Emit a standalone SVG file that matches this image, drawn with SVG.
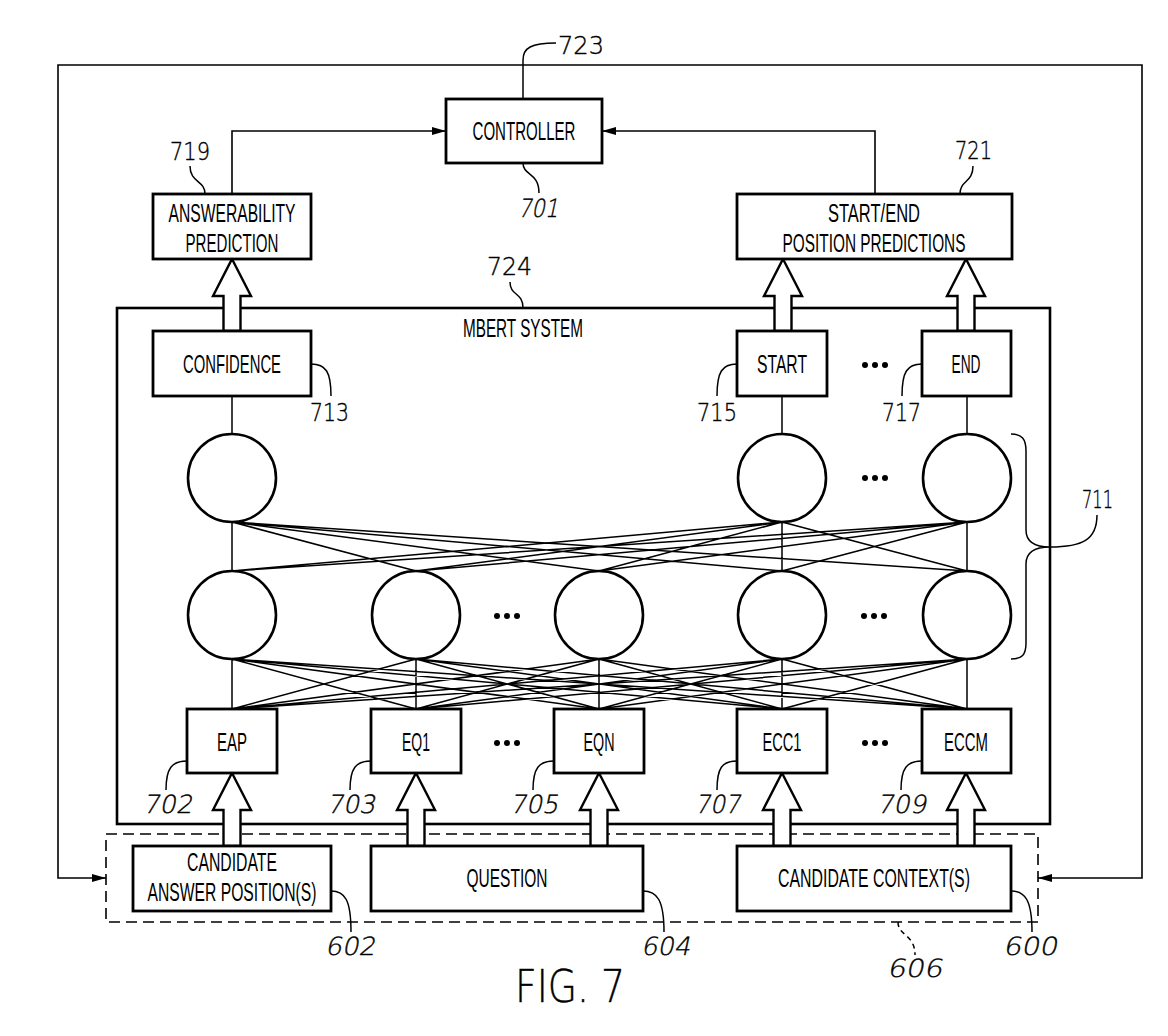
<svg xmlns="http://www.w3.org/2000/svg" width="1168" height="1036" viewBox="0 0 1168 1036">
<style>
.bg{fill:#fff}
.box{fill:#fff;stroke:#000;stroke-width:2.8}
.frame{fill:none;stroke:#000;stroke-width:2.6}
.dash{fill:none;stroke:#000;stroke-width:1.6;stroke-dasharray:11,6}
.ln{fill:none;stroke:#000;stroke-width:1.6}
.net{fill:none;stroke:#000;stroke-width:1.5}
.lead{fill:none;stroke:#000;stroke-width:1.5}
.neuron{fill:#fff;stroke:#000;stroke-width:2.6}
.hollow{fill:#fff;stroke:#000;stroke-width:2.4;stroke-linejoin:miter}
.t{font-family:"Liberation Sans",Arial,sans-serif;font-size:25px;fill:#000;text-anchor:middle}
.n{font-family:"DejaVu Sans","Liberation Sans",sans-serif;font-weight:200;font-size:25px;fill:#000;stroke:#000;stroke-width:0.4}
.dot{fill:#000}
</style>
<defs>
<marker id="ah" viewBox="0 0 14 8" refX="14" refY="4" markerWidth="14" markerHeight="8" markerUnits="userSpaceOnUse" orient="auto">
<path d="M0,0 L14,4 L0,8 z" fill="#000"/>
</marker>
</defs>
<rect class="bg" x="0" y="0" width="1168" height="1036"/>

<!-- MBERT system frame -->
<g id="mbert-system">
<rect class="frame" x="117" y="308" width="933" height="516"/>
<text class="t" x="523" y="337" textLength="120" lengthAdjust="spacingAndGlyphs">MBERT SYSTEM</text>
</g>

<!-- dashed input group 606 -->
<g id="input-group">
<rect class="dash" x="106" y="834" width="932" height="88"/>
</g>

<!-- connectors -->
<g id="connectors">
<path class="ln" d="M600,65 H58 V878 H106" marker-end="url(#ah)"/>
<path class="ln" d="M600,65 H1142 V878 H1038" marker-end="url(#ah)"/>
<path class="ln" d="M232,194 V131 H446" marker-end="url(#ah)"/>
<path class="ln" d="M875,194 V131 H602" marker-end="url(#ah)"/>
<path class="net" d="M232,396 V434 M782,396 V434 M967,396 V434"/>
<path class="net" d="M232,522 L232,571 M232,522 L416,571 M232,522 L599,571 M232,522 L782,571 M232,522 L967,571
M782,522 L232,571 M782,522 L416,571 M782,522 L599,571 M782,522 L782,571 M782,522 L967,571
M967,522 L232,571 M967,522 L416,571 M967,522 L599,571 M967,522 L782,571 M967,522 L967,571"/>
<path class="net" d="M232,659 L232,709 M232,659 L416,709 M232,659 L599,709 M232,659 L782,709 M232,659 L967,709
M416,659 L232,709 M416,659 L416,709 M416,659 L599,709 M416,659 L782,709 M416,659 L967,709
M599,659 L232,709 M599,659 L416,709 M599,659 L599,709 M599,659 L782,709 M599,659 L967,709
M782,659 L232,709 M782,659 L416,709 M782,659 L599,709 M782,659 L782,709 M782,659 L967,709
M967,659 L232,709 M967,659 L416,709 M967,659 L599,709 M967,659 L782,709 M967,659 L967,709"/>
<polygon class="hollow" points="232,259 251,296 240.5,296 240.5,331 223.5,331 223.5,296 213,296"/>
<polygon class="hollow" points="783,259 802,296 791.5,296 791.5,331 774.5,331 774.5,296 764,296"/>
<polygon class="hollow" points="966,259 985,296 974.5,296 974.5,331 957.5,331 957.5,296 947,296"/>
<polygon class="hollow" points="232,773 251,810 240.5,810 240.5,846 223.5,846 223.5,810 213,810"/>
<polygon class="hollow" points="416,773 435,810 424.5,810 424.5,846 407.5,846 407.5,810 397,810"/>
<polygon class="hollow" points="599,773 618,810 607.5,810 607.5,846 590.5,846 590.5,810 580,810"/>
<polygon class="hollow" points="782,773 801,810 790.5,810 790.5,846 773.5,846 773.5,810 763,810"/>
<polygon class="hollow" points="966,773 985,810 974.5,810 974.5,846 957.5,846 957.5,810 947,810"/>
</g>

<g id="controller">
<rect class="box" x="446" y="99" width="156" height="64"/>
<text class="t" x="524" y="140" textLength="103" lengthAdjust="spacingAndGlyphs">CONTROLLER</text>
</g>
<g id="answerability-prediction">
<rect class="box" x="153" y="194" width="158" height="65"/>
<text class="t" x="232" y="222" textLength="127" lengthAdjust="spacingAndGlyphs">ANSWERABILITY</text>
<text class="t" x="232" y="252" textLength="93" lengthAdjust="spacingAndGlyphs">PREDICTION</text>
</g>
<g id="start-end-predictions">
<rect class="box" x="737" y="194" width="275" height="65"/>
<text class="t" x="874" y="222" textLength="92" lengthAdjust="spacingAndGlyphs">START/END</text>
<text class="t" x="874" y="252" textLength="183" lengthAdjust="spacingAndGlyphs">POSITION PREDICTIONS</text>
</g>

<g id="confidence">
<rect class="box" x="153" y="331" width="158" height="65"/>
<text class="t" x="232" y="373" textLength="98" lengthAdjust="spacingAndGlyphs">CONFIDENCE</text>
</g>
<g id="start">
<rect class="box" x="737" y="331" width="90" height="65"/>
<text class="t" x="782" y="373" textLength="50" lengthAdjust="spacingAndGlyphs">START</text>
</g>
<g id="end">
<rect class="box" x="922" y="331" width="89" height="65"/>
<text class="t" x="966" y="373" textLength="29" lengthAdjust="spacingAndGlyphs">END</text>
</g>
<g id="dots-heads"><circle class="dot" cx="865" cy="365" r="3"/><circle class="dot" cx="875" cy="365" r="3"/><circle class="dot" cx="885" cy="365" r="3"/></g>

<g id="neuron-top-1"><circle class="neuron" cx="232" cy="478" r="44"/></g>
<g id="neuron-top-2"><circle class="neuron" cx="782" cy="478" r="44"/></g>
<g id="neuron-top-3"><circle class="neuron" cx="967" cy="478" r="44"/></g>
<g id="dots-top"><circle class="dot" cx="865" cy="478" r="3"/><circle class="dot" cx="875" cy="478" r="3"/><circle class="dot" cx="885" cy="478" r="3"/></g>

<g id="neuron-mid-1"><circle class="neuron" cx="232" cy="615" r="44"/></g>
<g id="neuron-mid-2"><circle class="neuron" cx="416" cy="615" r="44"/></g>
<g id="neuron-mid-3"><circle class="neuron" cx="599" cy="615" r="44"/></g>
<g id="neuron-mid-4"><circle class="neuron" cx="782" cy="615" r="44"/></g>
<g id="neuron-mid-5"><circle class="neuron" cx="967" cy="615" r="44"/></g>
<g id="dots-mid"><circle class="dot" cx="497" cy="616" r="3"/><circle class="dot" cx="507" cy="616" r="3"/><circle class="dot" cx="517" cy="616" r="3"/><circle class="dot" cx="864" cy="616" r="3"/><circle class="dot" cx="874" cy="616" r="3"/><circle class="dot" cx="884" cy="616" r="3"/></g>

<g id="brace-711">
<path class="lead" d="M1011,434 C1022,434 1026,439 1026,451 L1026,530 C1026,542 1034,547 1050,547 C1034,547 1026,552 1026,564 L1026,643 C1026,655 1022,659 1011,659"/>
<path class="lead" d="M1050,547 C1082,547 1097,540 1097,515"/>
<text class="n" x="1082" y="508" textLength="31" lengthAdjust="spacingAndGlyphs">711</text>
</g>

<g id="eap"><rect class="box" x="187" y="709" width="90" height="64"/><text class="t" x="232" y="751" textLength="30" lengthAdjust="spacingAndGlyphs">EAP</text></g>
<g id="eq1"><rect class="box" x="371" y="709" width="90" height="64"/><text class="t" x="416" y="751" textLength="28" lengthAdjust="spacingAndGlyphs">EQ1</text></g>
<g id="eqn"><rect class="box" x="554" y="709" width="90" height="64"/><text class="t" x="599" y="751" textLength="31" lengthAdjust="spacingAndGlyphs">EQN</text></g>
<g id="ecc1"><rect class="box" x="737" y="709" width="90" height="64"/><text class="t" x="782" y="751" textLength="39" lengthAdjust="spacingAndGlyphs">ECC1</text></g>
<g id="eccm"><rect class="box" x="922" y="709" width="89" height="64"/><text class="t" x="966" y="751" textLength="44" lengthAdjust="spacingAndGlyphs">ECCM</text></g>
<g id="dots-emb"><circle class="dot" cx="497" cy="743" r="3"/><circle class="dot" cx="507" cy="743" r="3"/><circle class="dot" cx="517" cy="743" r="3"/><circle class="dot" cx="865" cy="743" r="3"/><circle class="dot" cx="875" cy="743" r="3"/><circle class="dot" cx="885" cy="743" r="3"/></g>

<g id="candidate-answer-positions">
<rect class="box" x="133" y="846" width="198" height="65"/>
<text class="t" x="232" y="871" textLength="90" lengthAdjust="spacingAndGlyphs">CANDIDATE</text>
<text class="t" x="232" y="901" textLength="169" lengthAdjust="spacingAndGlyphs">ANSWER POSITION(S)</text>
</g>
<g id="question">
<rect class="box" x="371" y="846" width="272" height="65"/>
<text class="t" x="507" y="887" textLength="81" lengthAdjust="spacingAndGlyphs">QUESTION</text>
</g>
<g id="candidate-contexts">
<rect class="box" x="737" y="846" width="274" height="65"/>
<text class="t" x="874" y="887" textLength="192" lengthAdjust="spacingAndGlyphs">CANDIDATE CONTEXT(S)</text>
</g>

<g id="labels">
<path class="lead" d="M523,99 L523,60 C523,48 531,43 556,43"/>
<text class="n" x="558" y="54" textLength="46" lengthAdjust="spacingAndGlyphs">723</text>
<path class="lead" d="M523,163 C523,176 539,172 539,193"/>
<text class="n" transform="translate(518,217) skewX(-12)" x="0" y="0" textLength="40" lengthAdjust="spacingAndGlyphs">701</text>
<path class="lead" d="M205,194 C205,180 190,183 190,166"/>
<text class="n" x="170" y="160" textLength="40" lengthAdjust="spacingAndGlyphs">719</text>
<path class="lead" d="M960,194 C960,180 973,183 973,166"/>
<text class="n" x="955" y="159" textLength="37" lengthAdjust="spacingAndGlyphs">721</text>
<path class="lead" d="M510,282 C510,296 523,292 523,308"/>
<text class="n" x="487" y="275" textLength="45" lengthAdjust="spacingAndGlyphs">724</text>
<path class="lead" d="M311,364 C326,364 331,372 331,396"/>
<text class="n" x="310" y="421" textLength="39" lengthAdjust="spacingAndGlyphs">713</text>
<path class="lead" d="M737,364 C722,364 717,372 717,396"/>
<text class="n" x="697" y="421" textLength="40" lengthAdjust="spacingAndGlyphs">715</text>
<path class="lead" d="M922,364 C907,364 902,372 902,396"/>
<text class="n" x="882" y="421" textLength="39" lengthAdjust="spacingAndGlyphs">717</text>
<path class="lead" d="M187,761 C172,761 166,768 166,790"/>
<text class="n" transform="translate(143,813) skewX(-12)" x="0" y="0" textLength="49" lengthAdjust="spacingAndGlyphs">702</text>
<path class="lead" d="M371,761 C356,761 350,768 350,790"/>
<text class="n" transform="translate(327,813) skewX(-12)" x="0" y="0" textLength="48" lengthAdjust="spacingAndGlyphs">703</text>
<path class="lead" d="M554,761 C539,761 533,768 533,790"/>
<text class="n" transform="translate(510,813) skewX(-12)" x="0" y="0" textLength="48" lengthAdjust="spacingAndGlyphs">705</text>
<path class="lead" d="M737,761 C722,761 717,768 717,790"/>
<text class="n" transform="translate(695,813) skewX(-12)" x="0" y="0" textLength="45" lengthAdjust="spacingAndGlyphs">707</text>
<path class="lead" d="M922,761 C907,761 901,768 901,790"/>
<text class="n" transform="translate(877,813) skewX(-12)" x="0" y="0" textLength="49" lengthAdjust="spacingAndGlyphs">709</text>
<path class="lead" d="M331,891 C345,891 351,900 351,932"/>
<text class="n" transform="translate(325,955) skewX(-12)" x="0" y="0" textLength="50" lengthAdjust="spacingAndGlyphs">602</text>
<path class="lead" d="M643,891 C657,891 664,900 664,932"/>
<text class="n" transform="translate(641,955) skewX(-12)" x="0" y="0" textLength="49" lengthAdjust="spacingAndGlyphs">604</text>
<path class="lead" d="M1011,891 C1025,891 1032,900 1032,932"/>
<text class="n" transform="translate(1003,955) skewX(-12)" x="0" y="0" textLength="54" lengthAdjust="spacingAndGlyphs">600</text>
<path class="lead" d="M898,922 C898,936 915,934 915,955" stroke-dasharray="5,4"/>
<text class="n" transform="translate(887,977) skewX(-12)" x="0" y="0" textLength="55" lengthAdjust="spacingAndGlyphs">606</text>
<text class="n" x="515" y="1002" style="font-size:44px" textLength="110" lengthAdjust="spacingAndGlyphs">FIG. 7</text>
</g>
</svg>
